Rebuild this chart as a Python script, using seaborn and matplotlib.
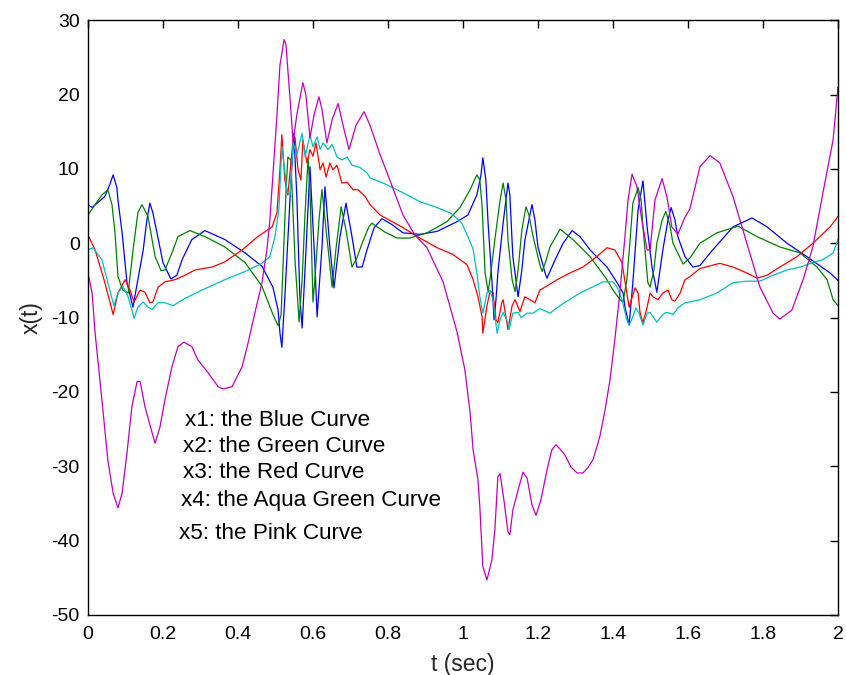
import numpy as np
import pandas as pd
import matplotlib
matplotlib.use("Agg")
import matplotlib.pyplot as plt
import seaborn as sns

# State trajectories x1..x5 sampled as (t [s], value) pairs
x1 = np.array([
    [0.000, 5.2], [0.011, 4.8], [0.045, 6.3], [0.059, 8.0], [0.067, 9.2], [0.077, 7.5],
    [0.080, 5.8], [0.091, 1.4], [0.104, -5.3], [0.120, -8.6], [0.133, -4.9], [0.147, -1.0],
    [0.157, 3.1], [0.165, 5.4], [0.173, 4.1], [0.184, 1.4], [0.200, -2.6], [0.221, -4.8],
    [0.237, -4.3], [0.251, -2.2], [0.277, 0.5], [0.312, 1.7], [0.365, 0.5], [0.419, -1.3],
    [0.464, -3.1], [0.493, -5.9], [0.507, -9.0], [0.512, -12.1], [0.517, -14.0], [0.525, -7.2],
    [0.539, 6.2], [0.549, 14.8], [0.557, 6.2], [0.565, -7.2], [0.571, -11.4], [0.584, 1.8],
    [0.592, 10.3], [0.605, -2.6], [0.611, -9.9], [0.624, -0.5], [0.632, 7.6], [0.645, -0.5],
    [0.656, -6.0], [0.672, 0.9], [0.688, 5.4], [0.704, 0.9], [0.717, -3.2], [0.731, -3.2],
    [0.744, -0.9], [0.763, 2.1], [0.784, 3.3], [0.811, 2.5], [0.840, 1.4], [0.885, 1.2],
    [0.931, 1.6], [0.984, 2.9], [1.013, 3.8], [1.037, 6.5], [1.048, 9.2], [1.053, 11.5],
    [1.061, 8.5], [1.067, 2.7], [1.077, -4.9], [1.083, -10.3], [1.088, -7.6], [1.093, -4.0],
    [1.107, 2.7], [1.120, 8.1], [1.125, 6.5], [1.133, -1.8], [1.147, -7.2], [1.157, -3.6],
    [1.165, 0.4], [1.184, 5.2], [1.192, 3.1], [1.200, -0.5], [1.219, -4.0], [1.224, -4.7],
    [1.245, -2.3], [1.267, 0.0], [1.291, 1.7], [1.312, 0.9], [1.339, -0.9], [1.384, -3.2],
    [1.411, -5.3], [1.427, -6.7], [1.432, -8.6], [1.443, -11.0], [1.453, -5.3], [1.467, 4.5],
    [1.480, 8.4], [1.491, 2.2], [1.504, -3.2], [1.517, -6.6], [1.533, -0.9], [1.547, 3.2],
    [1.555, 4.8], [1.565, 3.2], [1.573, 0.9], [1.592, -1.8], [1.613, -3.2], [1.632, -3.0],
    [1.659, -1.3], [1.720, 2.2], [1.771, 3.4], [1.811, 2.2], [1.864, 0.0], [1.917, -1.8],
    [1.979, -4.0], [2.000, -5.0],
])

x2 = np.array([
    [0.000, 3.8], [0.019, 5.2], [0.037, 6.5], [0.053, 7.2], [0.064, 5.2], [0.072, 1.4],
    [0.080, -4.5], [0.093, -6.3], [0.107, -6.7], [0.120, -1.0], [0.133, 4.1], [0.144, 5.2],
    [0.160, 3.6], [0.179, -1.8], [0.195, -3.7], [0.205, -3.6], [0.224, -1.3], [0.240, 0.9],
    [0.272, 1.7], [0.312, 0.9], [0.365, -0.5], [0.419, -2.6], [0.464, -5.8], [0.491, -9.3],
    [0.507, -11.1], [0.515, -9.6], [0.520, -3.2], [0.528, 6.9], [0.533, 11.6], [0.541, 11.2],
    [0.552, -2.2], [0.563, -10.6], [0.571, -4.9], [0.579, 4.1], [0.587, 11.5], [0.592, 7.2],
    [0.600, -7.9], [0.605, -4.9], [0.616, 3.1], [0.624, 7.2], [0.635, 1.8], [0.651, -5.9],
    [0.661, -0.9], [0.675, 4.9], [0.688, 1.8], [0.704, -3.2], [0.717, -2.0], [0.731, 0.0],
    [0.749, 2.2], [0.757, 2.7], [0.792, 1.5], [0.824, 0.7], [0.859, 0.7], [0.904, 1.4],
    [0.957, 2.9], [0.992, 4.8], [1.019, 7.2], [1.037, 9.2], [1.045, 8.5], [1.051, 4.9],
    [1.059, -4.0], [1.067, -6.5], [1.072, -4.9], [1.085, 0.5], [1.099, 5.8], [1.107, 8.1],
    [1.115, 5.8], [1.120, 0.5], [1.131, -4.9], [1.139, -6.5], [1.147, -3.6], [1.157, 1.8],
    [1.168, 4.9], [1.176, 3.8], [1.187, 0.9], [1.205, -2.9], [1.211, -3.8], [1.221, -2.4],
    [1.232, -0.5], [1.259, 1.9], [1.293, 0.5], [1.339, -1.8], [1.384, -4.9], [1.400, -6.3],
    [1.419, -7.6], [1.427, -7.9], [1.437, -4.9], [1.445, 0.0], [1.453, 5.4], [1.467, 7.5],
    [1.475, 5.8], [1.480, 2.2], [1.493, -5.3], [1.499, -5.9], [1.509, -3.6], [1.517, 0.0],
    [1.531, 3.1], [1.541, 4.3], [1.552, 2.4], [1.560, 0.0], [1.587, -2.8], [1.605, -2.0],
    [1.632, 0.0], [1.677, 1.4], [1.733, 2.3], [1.784, 0.9], [1.845, -0.5], [1.899, -1.3],
    [1.944, -3.2], [1.971, -4.9], [1.987, -7.6], [2.000, -8.4],
])

x3 = np.array([
    [0.000, 1.1], [0.019, -0.9], [0.045, -5.3], [0.059, -8.0], [0.067, -9.6], [0.080, -6.7],
    [0.099, -4.9], [0.112, -6.3], [0.123, -7.9], [0.139, -6.3], [0.152, -6.6], [0.165, -8.0],
    [0.173, -7.9], [0.187, -5.9], [0.205, -5.2], [0.232, -4.9], [0.259, -4.3], [0.285, -3.6],
    [0.331, -3.2], [0.365, -2.5], [0.411, -0.9], [0.453, 0.9], [0.491, 2.2], [0.504, 4.1],
    [0.512, 10.0], [0.517, 14.6], [0.525, 8.5], [0.533, 6.5], [0.547, 13.9], [0.552, 14.3],
    [0.560, 9.9], [0.568, 8.5], [0.573, 13.9], [0.584, 10.8], [0.592, 12.6], [0.600, 11.7],
    [0.608, 13.5], [0.619, 9.9], [0.627, 10.8], [0.635, 8.9], [0.645, 10.8], [0.653, 9.9],
    [0.664, 10.5], [0.677, 8.1], [0.691, 8.2], [0.707, 7.2], [0.720, 7.2], [0.739, 6.3],
    [0.752, 5.2], [0.779, 3.8], [0.840, 2.1], [0.885, 0.7], [0.931, -0.6], [0.973, -1.5],
    [1.011, -2.9], [1.027, -4.9], [1.040, -7.2], [1.051, -9.9], [1.053, -12.1], [1.064, -8.4],
    [1.072, -6.5], [1.080, -6.6], [1.088, -10.3], [1.093, -10.7], [1.104, -7.9], [1.107, -7.6],
    [1.120, -11.6], [1.131, -8.4], [1.139, -7.6], [1.152, -9.2], [1.165, -7.2], [1.179, -7.6],
    [1.192, -8.0], [1.205, -6.3], [1.219, -5.9], [1.251, -4.9], [1.285, -4.0], [1.320, -3.2],
    [1.357, -1.8], [1.384, -0.6], [1.405, -0.9], [1.424, -2.6], [1.437, -6.7], [1.443, -8.6],
    [1.451, -7.3], [1.459, -6.0], [1.467, -6.7], [1.472, -9.3], [1.480, -10.7], [1.491, -8.6],
    [1.499, -6.7], [1.507, -7.2], [1.520, -7.6], [1.533, -6.7], [1.547, -6.3], [1.557, -7.6],
    [1.565, -7.8], [1.579, -6.7], [1.592, -4.9], [1.605, -4.5], [1.632, -3.4], [1.685, -2.7],
    [1.720, -3.2], [1.757, -4.0], [1.784, -4.7], [1.811, -4.3], [1.845, -3.2], [1.891, -1.8],
    [1.933, 0.0], [1.979, 2.2], [2.000, 3.6],
])

x4 = np.array([
    [0.000, -0.9], [0.013, -0.6], [0.037, -2.2], [0.053, -5.3], [0.069, -8.4], [0.080, -6.7],
    [0.093, -5.8], [0.107, -7.2], [0.123, -10.1], [0.133, -8.6], [0.147, -7.9], [0.160, -8.6],
    [0.171, -8.9], [0.187, -8.0], [0.205, -8.0], [0.227, -8.4], [0.259, -7.4], [0.304, -6.3],
    [0.365, -4.9], [0.419, -3.8], [0.464, -2.7], [0.485, -1.8], [0.499, 1.0], [0.509, 4.5],
    [0.517, 13.0], [0.525, 9.6], [0.531, 6.9], [0.539, 6.5], [0.547, 13.6], [0.557, 11.9],
    [0.571, 14.8], [0.579, 11.6], [0.592, 14.6], [0.600, 13.0], [0.611, 14.3], [0.619, 12.6],
    [0.627, 13.5], [0.640, 12.6], [0.651, 13.3], [0.664, 11.6], [0.677, 11.2], [0.691, 11.6],
    [0.704, 10.5], [0.725, 10.2], [0.744, 9.5], [0.752, 8.8], [0.787, 8.1], [0.840, 6.8],
    [0.885, 5.6], [0.931, 4.8], [0.965, 4.1], [0.979, 3.6], [0.997, 2.7], [1.013, 0.9],
    [1.027, -0.8], [1.037, -4.0], [1.045, -7.2], [1.053, -9.4], [1.064, -6.7], [1.072, -6.3],
    [1.080, -7.6], [1.091, -12.1], [1.099, -10.3], [1.107, -9.3], [1.117, -10.3], [1.123, -11.6],
    [1.133, -9.4], [1.147, -9.3], [1.155, -10.0], [1.171, -9.4], [1.187, -9.4], [1.205, -8.8],
    [1.232, -9.4], [1.267, -8.1], [1.312, -6.7], [1.373, -5.2], [1.400, -5.2], [1.411, -5.9],
    [1.424, -7.6], [1.437, -10.3], [1.443, -11.0], [1.453, -9.9], [1.461, -8.7], [1.469, -9.4],
    [1.480, -11.0], [1.491, -9.4], [1.499, -9.3], [1.507, -9.9], [1.517, -10.6], [1.531, -9.7],
    [1.541, -9.3], [1.552, -9.4], [1.560, -9.6], [1.573, -8.7], [1.592, -8.0], [1.605, -7.9],
    [1.632, -7.6], [1.677, -6.7], [1.720, -5.3], [1.757, -5.1], [1.792, -5.1], [1.827, -4.3],
    [1.864, -3.6], [1.899, -3.2], [1.933, -2.6], [1.960, -2.2], [1.987, -1.3], [2.000, 0.5],
])

x5 = np.array([
    [0.000, -4.0], [0.011, -6.7], [0.019, -12.1], [0.037, -21.0], [0.053, -29.2], [0.067, -33.6],
    [0.080, -35.6], [0.091, -33.6], [0.104, -28.2], [0.117, -22.0], [0.131, -18.6], [0.139, -18.6],
    [0.152, -22.0], [0.171, -25.5], [0.179, -26.9], [0.192, -24.7], [0.205, -21.1], [0.224, -16.6],
    [0.240, -13.9], [0.256, -13.3], [0.277, -13.9], [0.293, -15.7], [0.320, -17.4], [0.347, -19.3],
    [0.360, -19.6], [0.384, -19.3], [0.411, -16.6], [0.427, -13.4], [0.445, -9.4], [0.464, -5.3],
    [0.477, -0.9], [0.485, 3.1], [0.504, 17.3], [0.512, 24.0], [0.523, 27.4], [0.528, 26.7],
    [0.539, 19.3], [0.547, 13.6], [0.557, 17.3], [0.573, 21.6], [0.581, 20.0], [0.592, 14.2],
    [0.603, 17.3], [0.616, 19.7], [0.624, 18.0], [0.637, 13.5], [0.651, 16.6], [0.667, 18.8],
    [0.680, 15.9], [0.696, 12.6], [0.715, 15.9], [0.736, 17.7], [0.752, 15.9], [0.779, 11.9],
    [0.805, 8.5], [0.840, 3.8], [0.872, 1.1], [0.904, -0.6], [0.947, -5.2], [0.984, -11.9],
    [1.005, -17.0], [1.019, -22.8], [1.027, -27.8], [1.040, -31.8], [1.045, -35.5], [1.053, -43.5],
    [1.064, -45.3], [1.077, -42.6], [1.085, -38.6], [1.093, -31.4], [1.099, -31.0], [1.109, -34.5],
    [1.120, -38.8], [1.125, -39.2], [1.133, -35.9], [1.147, -33.2], [1.160, -30.8], [1.171, -31.6],
    [1.184, -35.2], [1.195, -36.6], [1.208, -34.5], [1.224, -30.5], [1.237, -27.8], [1.248, -27.1],
    [1.261, -27.8], [1.272, -28.5], [1.288, -30.1], [1.304, -30.9], [1.320, -30.9], [1.333, -30.2],
    [1.347, -29.1], [1.365, -26.0], [1.379, -22.4], [1.392, -18.4], [1.405, -13.0], [1.419, -6.3],
    [1.427, -1.8], [1.432, 0.9], [1.440, 5.8], [1.451, 9.3], [1.464, 7.6], [1.477, 3.1],
    [1.491, -0.9], [1.499, -0.9], [1.512, 5.8], [1.531, 8.7], [1.544, 6.2], [1.557, 2.2],
    [1.573, 1.2], [1.592, 3.5], [1.605, 4.6], [1.632, 10.3], [1.659, 11.8], [1.685, 10.8],
    [1.720, 6.3], [1.757, 0.0], [1.792, -5.9], [1.827, -9.4], [1.845, -10.2], [1.877, -9.0],
    [1.907, -4.9], [1.933, -0.5], [1.960, 6.8], [1.987, 13.9], [2.000, 21.0],
])

series_names = ["x1", "x2", "x3", "x4", "x5"]
series_colors = ["#0000ff", "#008000", "#ff0000", "#00bfbf", "#bf00bf"]
curve_labels = [
    "x1: the Blue Curve",
    "x2: the Green Curve",
    "x3: the Red Curve",
    "x4: the Aqua Green Curve",
    "x5: the Pink Curve",
]
label_pos = [(0.259, -23.9), (0.253, -27.3), (0.253, -30.8), (0.248, -34.6), (0.243, -39.1)]

x_ticks = [0, 0.2, 0.4, 0.6, 0.8, 1, 1.2, 1.4, 1.6, 1.8, 2]
x_tick_labels = ["0", "0.2", "0.4", "0.6", "0.8", "1", "1.2", "1.4", "1.6", "1.8", "2"]
y_ticks = [-50, -40, -30, -20, -10, 0, 10, 20, 30]

sns.set_theme(style="white")
plt.rcParams["font.family"] = ["Liberation Sans", "DejaVu Sans"]
plt.rcParams["axes.unicode_minus"] = False

fig = plt.figure(figsize=(8.46, 6.75), dpi=100)
ax = fig.add_axes([0.104, 0.089, 0.8865, 0.881])

frames = []
for name, arr in zip(series_names, [x1, x2, x3, x4, x5]):
    frames.append(pd.DataFrame({"t": arr[:, 0], "x": arr[:, 1], "state": name}))
df = pd.concat(frames, ignore_index=True)

sns.lineplot(data=df, x="t", y="x", hue="state", palette=dict(zip(series_names, series_colors)),
             estimator=None, sort=False, linewidth=0.9, legend=False, ax=ax)

for (tx, ty), txt in zip(label_pos, curve_labels):
    ax.text(tx, ty, txt, fontsize=16.2, ha="left", va="center", color="black")

ax.set_xlim(0, 2)
ax.set_ylim(-50, 30)
ax.set_xticks(x_ticks)
ax.set_xticklabels(x_tick_labels)
ax.set_yticks(y_ticks)
ax.tick_params(direction="in", length=6, width=1, top=True, right=True,
               labelsize=14, colors="black")
ax.tick_params(axis="x", pad=8)
ax.tick_params(axis="y", pad=6)
for s in ax.spines.values():
    s.set_visible(True)
    s.set_color("black")
    s.set_linewidth(1.0)
ax.set_xlabel("t (sec)", fontsize=16.5, labelpad=7)
ax.set_ylabel("x(t)", fontsize=16.5, labelpad=6)

fig.savefig("out.png", dpi=100, facecolor="white")
